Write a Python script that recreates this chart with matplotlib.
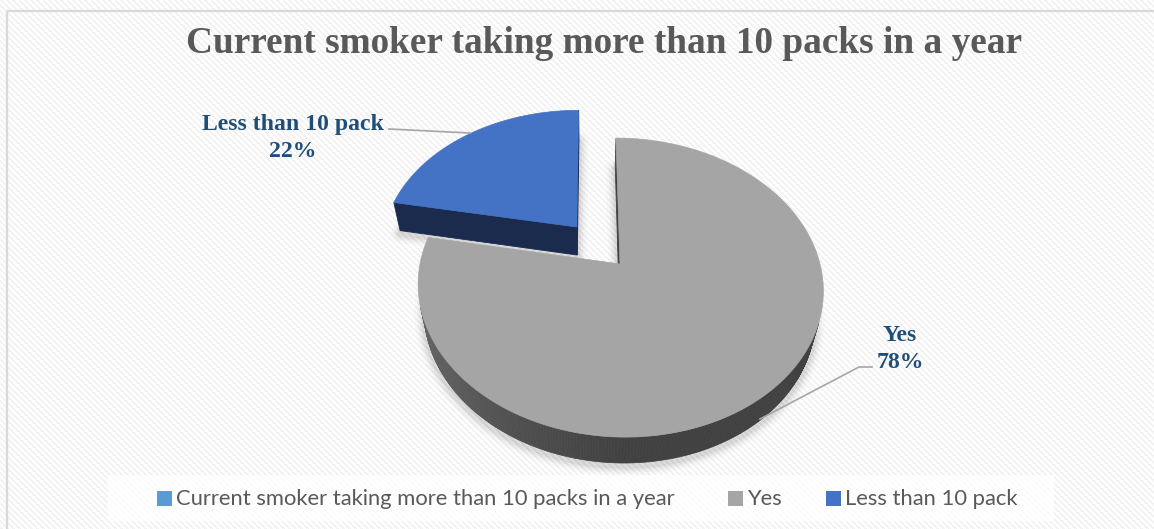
import numpy as np
import matplotlib
matplotlib.use("Agg")
import matplotlib.pyplot as plt
from matplotlib.patches import Polygon, Rectangle

# ---- data ----
title = "Current smoker taking more than 10 packs in a year"
categories = ["Yes", "Less than 10 pack"]
shares = [78, 22]
legend_labels = ["Current smoker taking more than 10 packs in a year", "Yes", "Less than 10 pack"]

# ---- styling ----
top_colors = ["#a5a5a5", "#4472c4"]
side_colors = ["#414141", "#1b2b4d"]
legend_colors = ["#5b9bd5", "#a5a5a5", "#4472c4"]
explode = [0.0, 0.343]
label_color = "#1f4e79"
text_gray = "#595959"

W, H = 1154, 529
fig = plt.figure(figsize=(W / 100, H / 100), dpi=100)
ax = fig.add_axes([0, 0, 1, 1])
ax.set_xlim(0, W)
ax.set_ylim(H, 0)
ax.axis("off")

# striped chart-area fill
yy, xx = np.mgrid[0:H, 0:W]
stripe = np.where(((xx - yy) % 6) < 3, 0.955, 1.0)
ax.imshow(np.dstack([stripe] * 3), extent=(0, W, H, 0), aspect="auto",
          interpolation="nearest", zorder=0)
ax.add_patch(Rectangle((7, 11), 1160, 530, facecolor="none",
                       edgecolor="#d9d9d9", lw=1.6, zorder=1))

# ---- perspective camera for the 3-D pie ----
phi = np.radians(46.8)
sphi, cphi = np.sin(phi), np.cos(phi)
D, F = 4.34, 868.0
cam_x = -0.147
cx, cy = 590.6, 264.0
thick = 0.211
cam = np.array([cam_x, -D * cphi, D * sphi])


def proj(x, y, z):
    x, y, z = np.asarray(x, float), np.asarray(y, float), np.asarray(z, float)
    depth = D + y * cphi - z * sphi
    return cx + F * (x - cam_x) / depth, cy - F * (y * sphi + z * cphi) / depth


def poly(pts3, **kw):
    px, py = proj(*np.array(pts3).T)
    ax.add_patch(Polygon(np.column_stack([px, py]), closed=True, **kw))


total = float(sum(shares))
slices = []
start = 90.0
for i, v in enumerate(shares):
    sweep = v / total * 360.0
    a_hi = start
    a_lo = start - sweep  # clockwise from 12 o'clock
    mid = np.radians((a_hi + a_lo) / 2)
    off = explode[i] * np.array([np.cos(mid), np.sin(mid)])
    slices.append((a_lo, a_hi, off))
    start = a_lo


def rim(a_lo, a_hi, off, z, n=240):
    t = np.radians(np.linspace(a_lo, a_hi, n))
    return [(off[0] + np.cos(a), off[1] + np.sin(a), z) for a in t]


# soft drop shadows under each slice
for a_lo, a_hi, off in slices:
    pts = [(off[0], off[1], -thick)] + rim(a_lo, a_hi, off, -thick)
    px, py = proj(*np.array(pts).T)
    xy = np.column_stack([px, py + 3])
    for lw, al in [(14, 0.02), (10, 0.03), (7, 0.04), (4, 0.05)]:
        ax.add_patch(Polygon(xy, closed=True, facecolor="none",
                             edgecolor=(0, 0, 0, al), lw=lw, joinstyle="round",
                             zorder=2))

z0 = 3
for k, (a_lo, a_hi, off) in enumerate(slices):
    vtx = (off[0], off[1])
    # radial faces
    for ang, sgn in ((a_lo, -1), (a_hi, 1)):
        r = np.radians(ang)
        n = np.array([np.cos(r + sgn * np.pi / 2), np.sin(r + sgn * np.pi / 2), 0])
        p = np.array([vtx[0] + 0.5 * np.cos(r), vtx[1] + 0.5 * np.sin(r), -thick / 2])
        if np.dot(n, cam - p) > 0:
            e = (vtx[0] + np.cos(r), vtx[1] + np.sin(r))
            poly([(vtx[0], vtx[1], 0), (e[0], e[1], 0), (e[0], e[1], -thick),
                  (vtx[0], vtx[1], -thick)],
                 facecolor=side_colors[k], edgecolor=side_colors[k], lw=0.6, zorder=z0)
    # curved outer side, shaded strip by strip
    angs = np.linspace(a_lo, a_hi, 361)
    for a1, a2 in zip(angs[:-1], angs[1:]):
        am = np.radians((a1 + a2) / 2)
        n = np.array([np.cos(am), np.sin(am), 0])
        p = np.array([vtx[0] + np.cos(am), vtx[1] + np.sin(am), 0])
        if np.dot(n, cam - p) <= 0:
            continue
        if k == 0:
            deg = (a1 + a2) / 2 % 360
            t = np.clip((deg - 185) / 85, 0, 1)
            g = 0.43 - 0.175 * t
            col = (g, g, g)
        else:
            col = side_colors[k]
        r1, r2 = np.radians(a1), np.radians(a2)
        poly([(vtx[0] + np.cos(r1), vtx[1] + np.sin(r1), 0),
              (vtx[0] + np.cos(r2), vtx[1] + np.sin(r2), 0),
              (vtx[0] + np.cos(r2), vtx[1] + np.sin(r2), -thick),
              (vtx[0] + np.cos(r1), vtx[1] + np.sin(r1), -thick)],
             facecolor=col, edgecolor=col, lw=0.5, zorder=z0)
    # top face
    poly([(vtx[0], vtx[1], 0)] + rim(a_lo, a_hi, off, 0),
         facecolor=top_colors[k], edgecolor=top_colors[k], lw=0.5, zorder=z0 + 1)
    z0 += 2


def fit_size(text, target, size0=20, **kw):
    t = ax.text(0, 0, text, fontsize=size0, **kw)
    fig.canvas.draw()
    w = t.get_window_extent().width
    t.remove()
    return size0 * target / w


serif = ["Liberation Serif", "DejaVu Serif"]

# title
ts = fit_size(title, 835, family=serif, weight="bold")
ax.text(604.5, 53, title, fontsize=ts, family=serif, weight="bold",
        color=text_gray, ha="center", va="baseline", zorder=10)

# data labels with leader lines
ls = fit_size(categories[1], 181, family=serif, weight="bold")
label_pos = {0: (900, 341), 1: (292.5, 130)}
for k, cat in enumerate(categories):
    x, y = label_pos[k]
    ax.text(x, y, cat, fontsize=ls, family=serif, weight="bold", color=label_color,
            ha="center", va="baseline", zorder=10)
    ax.text(x, y + 27, f"{shares[k]}%", fontsize=ls, family=serif, weight="bold",
            color=label_color, ha="center", va="baseline", zorder=10)

ax.plot([389, 470], [129, 133], color="#a6a6a6", lw=1.2, zorder=9)
ax.plot([872, 859, 760], [367, 367, 419], color="#a6a6a6", lw=1.2, zorder=9)

# legend
ax.add_patch(Rectangle((108, 475), 946, 46, facecolor="white", alpha=0.8,
                       edgecolor="none", zorder=8))
sans = ["Lato", "DejaVu Sans"]
gs = fit_size(legend_labels[0], 502, family=sans)
sq_x = [157, 728, 826]
for lab, col, x in zip(legend_labels, legend_colors, sq_x):
    ax.add_patch(Rectangle((x, 491), 15, 15, facecolor=col, edgecolor="none", zorder=9))
    ax.text(x + 19, 499, lab, fontsize=gs, family=sans, color=text_gray,
            ha="left", va="center", zorder=10)

fig.savefig("out.png", dpi=100)
